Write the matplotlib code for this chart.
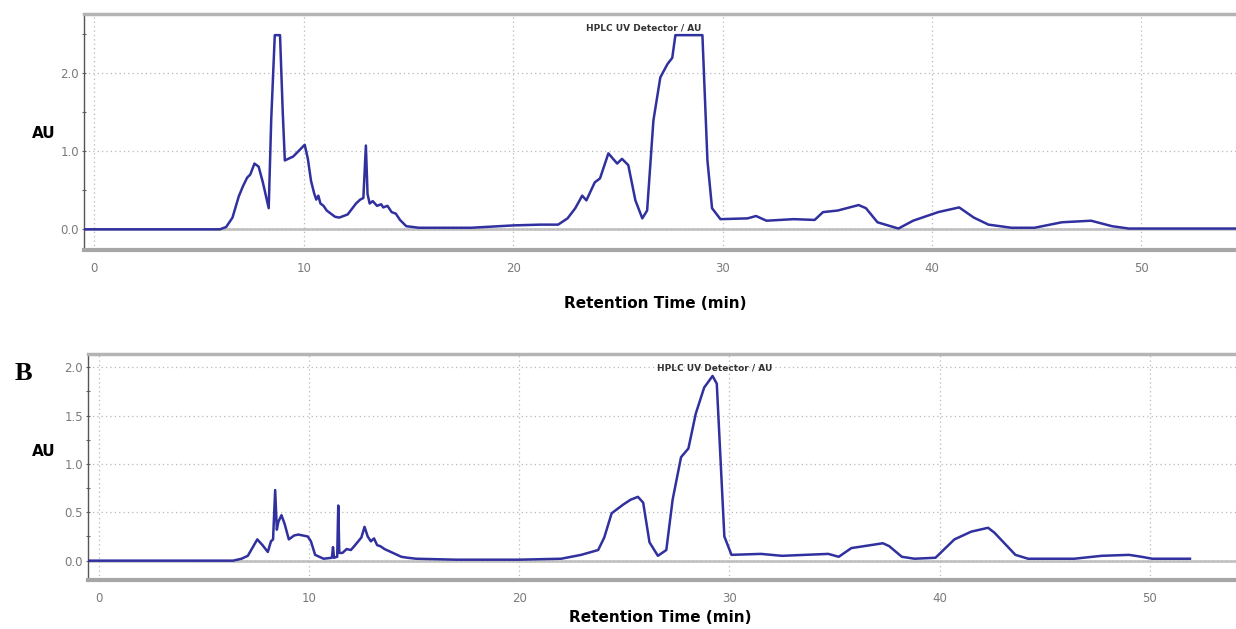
import matplotlib
matplotlib.use('Agg')
import matplotlib.pyplot as plt
from matplotlib.ticker import MultipleLocator

# chromatogram A (min, AU)
time_a = [-0.5, 6.0, 6.3, 6.6, 6.9, 7.1, 7.3, 7.45, 7.65, 7.85, 8.05, 8.33, 8.45, 8.62,
          8.87, 9.0, 9.1, 9.5, 10.05, 10.2, 10.35, 10.5, 10.6, 10.7, 10.8, 10.95, 11.1,
          11.3, 11.5, 11.7, 11.9, 12.1, 12.3, 12.5, 12.7, 12.85, 12.97, 13.05, 13.15,
          13.3, 13.5, 13.7, 13.8, 14.0, 14.2, 14.4, 14.6, 14.9, 15.5, 18.0, 20.0, 21.3,
          22.15, 22.6, 22.97, 23.3, 23.5, 23.9, 24.15, 24.55, 24.97, 25.2, 25.5, 25.84,
          26.17, 26.4, 26.7, 27.03, 27.37, 27.6, 27.75, 29.04, 29.28, 29.5, 29.9, 31.2,
          31.6, 32.1, 33.4, 34.4, 34.8, 35.5, 36.5, 36.85, 37.4, 38.4, 39.1, 40.3, 41.3,
          42.0, 42.7, 43.8, 44.9, 46.2, 47.6, 48.6, 49.4, 50.5, 54.6]
au_a = [0.0, 0.0, 0.03, 0.15, 0.42, 0.55, 0.66, 0.7, 0.84, 0.8, 0.6, 0.27, 1.4, 2.48,
        2.48, 1.5, 0.88, 0.93, 1.08, 0.9, 0.62, 0.46, 0.38, 0.43, 0.33, 0.3, 0.24,
        0.2, 0.16, 0.15, 0.17, 0.19, 0.26, 0.33, 0.38, 0.4, 1.07, 0.45, 0.33, 0.36,
        0.3, 0.32, 0.28, 0.3, 0.22, 0.2, 0.12, 0.04, 0.02, 0.02, 0.05, 0.06,
        0.06, 0.14, 0.27, 0.43, 0.37, 0.6, 0.65, 0.97, 0.84, 0.9, 0.82, 0.37,
        0.14, 0.24, 1.39, 1.94, 2.11, 2.19, 2.48, 2.48, 0.88, 0.27, 0.13, 0.14,
        0.17, 0.11, 0.13, 0.12, 0.22, 0.24, 0.31, 0.27, 0.09, 0.01, 0.11, 0.22, 0.28,
        0.15, 0.06, 0.02, 0.02, 0.09, 0.11, 0.04, 0.01, 0.01, 0.01]

# chromatogram B (min, AU)
time_b = [-0.5, 6.4, 6.8, 7.1, 7.55, 7.8, 8.05, 8.2, 8.3, 8.4, 8.48, 8.55, 8.7, 8.85,
          9.05, 9.3, 9.5, 9.95, 10.1, 10.3, 10.7, 11.1, 11.15, 11.2, 11.35, 11.4, 11.45,
          11.6, 11.8, 12.0, 12.2, 12.35, 12.5, 12.65, 12.8, 12.95, 13.1, 13.25, 13.4,
          13.6, 13.9, 14.1, 14.4, 14.7, 15.1, 17.0, 20.0, 22.0, 22.95, 23.76, 24.05,
          24.4, 24.95, 25.3, 25.65, 25.9, 26.2, 26.6, 27.0, 27.3, 27.7, 28.05, 28.4,
          28.8, 29.2, 29.4, 29.76, 30.1, 31.5, 32.5, 34.7, 35.2, 35.8, 36.4, 37.3, 37.6,
          38.2, 38.8, 39.8, 40.7, 41.5, 42.3, 42.6, 43.6, 44.2, 46.4, 47.7, 49.0, 49.6,
          50.1, 51.9]
au_b = [0.0, 0.0, 0.02, 0.05, 0.22, 0.16, 0.09, 0.2, 0.22, 0.73, 0.32, 0.4, 0.47, 0.38,
        0.22, 0.26, 0.27, 0.25, 0.2, 0.06, 0.02, 0.03, 0.14, 0.03, 0.04, 0.57, 0.08,
        0.08, 0.12, 0.11, 0.16, 0.2, 0.24, 0.35, 0.25, 0.2, 0.23, 0.16, 0.15,
        0.12, 0.09, 0.07, 0.04, 0.03, 0.02, 0.01, 0.01, 0.02, 0.06, 0.11, 0.24,
        0.49, 0.58, 0.63, 0.66, 0.6, 0.19, 0.05, 0.11, 0.63, 1.07, 1.16, 1.52,
        1.79, 1.91, 1.83, 0.25, 0.06, 0.07, 0.05, 0.07, 0.04, 0.13, 0.15, 0.18, 0.15,
        0.04, 0.02, 0.03, 0.22, 0.3, 0.34, 0.29, 0.06, 0.02, 0.02, 0.05, 0.06, 0.04,
        0.02, 0.02]

line_col = '#30309e'
grid_col = '#b8b8b8'
tick_col = '#7a7a7a'

fig = plt.figure(figsize=(12.36, 6.29), dpi=100)

ax_a = fig.add_axes([84/1236, 1-250/629, 1-84/1236, 236/629])
ax_b = fig.add_axes([88/1236, 1-580/629, 1-88/1236, 226/629])


def style(ax, xlim, ylim, ymajor, yminor):
    ax.set_xlim(*xlim)
    ax.set_ylim(*ylim)
    ax.xaxis.set_major_locator(MultipleLocator(10))
    ax.yaxis.set_major_locator(MultipleLocator(ymajor))
    ax.yaxis.set_minor_locator(MultipleLocator(yminor))
    ax.grid(True, which='major', color=grid_col, linestyle=(0, (1, 2.5)), lw=0.9)
    ax.axhline(0, color='#c4c4c4', lw=2, zorder=1)
    ax.spines['right'].set_visible(False)
    ax.spines['top'].set_color('#b4b4b4')
    ax.spines['top'].set_linewidth(2.5)
    ax.spines['bottom'].set_color('#a6a6a6')
    ax.spines['bottom'].set_linewidth(3)
    ax.spines['left'].set_color('#555555')
    ax.spines['left'].set_linewidth(1)
    ax.tick_params(axis='x', length=0, pad=9, labelsize=8.5, labelcolor=tick_col)
    ax.tick_params(axis='y', which='both', direction='inout', length=3, width=0.8,
                   color='#666666', pad=2, labelsize=8.5, labelcolor=tick_col)
    ax.yaxis.set_major_formatter(lambda v, p: f'{v:.1f}')


style(ax_a, (-0.49, 54.52), (-0.264, 2.75), 1.0, 0.5)
style(ax_b, (-0.5, 54.09), (-0.2, 2.137), 0.5, 0.25)

ax_a.plot(time_a, au_a, color=line_col, lw=1.8, zorder=3, solid_joinstyle='round')
ax_b.plot(time_b, au_b, color=line_col, lw=1.8, zorder=3, solid_joinstyle='round')

for x, y in [(644, 28), (715, 368)]:
    fig.text(x/1236, 1-y/629, 'HPLC UV Detector / AU', fontsize=6.5, fontweight='bold',
             color='#333333', ha='center', va='center')
for x, y in [(44, 133), (44, 452)]:
    fig.text(x/1236, 1-y/629, 'AU', fontsize=11, fontweight='bold', ha='center', va='center')
for x, y in [(655, 304), (660, 618)]:
    fig.text(x/1236, 1-y/629, 'Retention Time (min)', fontsize=11, fontweight='bold',
             ha='center', va='center')
fig.text(23/1236, 1-373/629, 'B', fontsize=19, fontweight='bold', family='Liberation Serif',
         ha='center', va='center')

fig.savefig('out.png', dpi=100)
